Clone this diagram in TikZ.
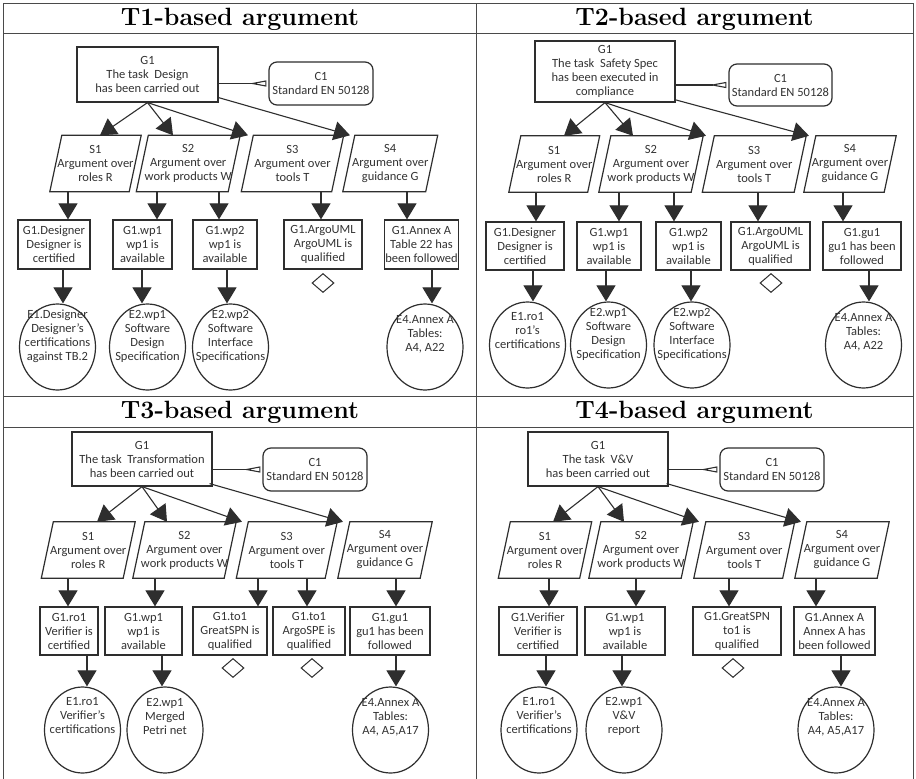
\documentclass[tikz,border=0pt]{standalone}
\usepackage{fontspec}
\setmainfont{Latin Modern Roman}
\newfontfamily\gsnfont{Carlito}
\usetikzlibrary{arrows.meta,shapes.geometric}
\definecolor{gsnc}{HTML}{2E2E2E}
\definecolor{gsntext}{HTML}{333333}
\definecolor{rulec}{HTML}{4A4A4A}

\tikzset{
  gsnfontstyle/.style={font=\gsnfont\fontsize{12.5}{14}\selectfont, text=gsntext},
  goalbox/.style={draw=gsnc, line width=1.2pt, rectangle, align=center, inner sep=1pt, gsnfontstyle},
  ctxbox/.style={goalbox, rounded corners=8pt},
  stratbox/.style={rectangle, align=center, inner sep=1pt, gsnfontstyle, minimum height=56pt},
  evid/.style={draw=gsnc, line width=1.2pt, ellipse, minimum width=76pt, minimum height=86pt, inner sep=0pt},
  evtext/.style={align=center, inner sep=0pt, gsnfontstyle},
  undev/.style={draw=gsnc, line width=1pt, diamond, minimum width=22pt, minimum height=19pt, inner sep=0pt},
  solved/.style={draw=gsnc, line width=1.1pt, -{Triangle[length=16pt,width=19pt]}},
  incontext/.style={draw=gsnc, line width=1.1pt, -{Triangle[open,reversed,length=17pt,width=6pt]}, shorten >=2pt},
  headtitle/.style={font=\fontsize{25}{29}\selectfont\bfseries, inner sep=0pt},
  tablerule/.style={draw=rulec, line width=1pt},
}

% strategy: a parallelogram drawn around a named text node
\newcommand\gsnstrat[5]{%
  \node[stratbox, minimum width=#4pt] (#1) at (#2,#3) {#5};
  \draw[draw=gsnc, line width=1.2pt] ([xshift=-6pt]#1.south west) -- ([xshift=6pt]#1.north west)
    -- ([xshift=6pt]#1.north east) -- ([xshift=-6pt]#1.south east) -- cycle;
}

\begin{document}
\begin{tikzpicture}[x=1pt,y=-1pt]
\useasboundingbox (0,0) rectangle (916,779);
\fill[white] (0,0) rectangle (916,779);

% ---------------- table ----------------
\draw[tablerule] (3,779) -- (3,3) -- (913,3) -- (913,779);
\draw[tablerule] (476,3) -- (476,779);
\draw[tablerule] (3,33) -- (913,33);
\draw[tablerule] (3,396) -- (913,396);
\draw[tablerule] (3,427) -- (913,427);

\node[headtitle] (hA) at (240,19) {T1-based argument};
\node[headtitle] (hB) at (694.5,19) {T2-based argument};
\node[headtitle] (hC) at (240,412) {T3-based argument};
\node[headtitle] (hD) at (694.5,412) {T4-based argument};

% ================= T1 =================
\node[goalbox, minimum width=141pt, minimum height=55pt] (aG) at (147.5,74.5) {G1\\The task\ \ Design\\has been carried out};
\node[ctxbox, minimum width=104pt, minimum height=43pt] (aC) at (321,83.5) {C1\\Standard EN 50128};
\draw[incontext] (aG.east |- aC.west) -- (aC.west);

\gsnstrat{aS1}{95.5}{163.5}{79}{S1\\Argument over\\roles R}
\gsnstrat{aS2}{188.25}{163.5}{91.5}{S2\\Argument over\\work products W}
\gsnstrat{aS3}{292.5}{163.5}{90}{S3\\Argument over\\tools T}
\gsnstrat{aS4}{390.25}{163.5}{82.5}{S4\\Argument over\\guidance G}

\draw[solved] (aG.south) -- (aS1.north -| 100,0);
\draw[solved] (aG.south) -- (aS2.north -| 173,0);
\draw[solved] (aG.south) -- (aS3.north -| 248,0);
\draw[solved] ([yshift=5pt]aG.south east) -- (aS4.north -| 350,0);

\node[goalbox, minimum width=72pt, minimum height=49pt] (aG1) at (54,244.5) {G1.Designer\\Designer is\\certified};
\node[goalbox, minimum width=59pt, minimum height=49pt] (aG2) at (142.5,244.5) {G1.wp1\\wp1 is\\available};
\node[goalbox, minimum width=64pt, minimum height=49pt] (aG3) at (225,244.5) {G1.wp2\\wp1 is\\available};
\node[goalbox, minimum width=78pt, minimum height=49pt] (aG4) at (323,244.5) {G1.ArgoUML\\ArgoUML is\\qualified};
\node[goalbox, minimum width=73pt, minimum height=49pt] (aG5) at (421.5,244.5) {G1.Annex A\\Table 22 has\\been followed};

\draw[solved] (aS1.south -| 68,0) -- (aG1.north -| 68,0);
\draw[solved] (aS2.south -| 157,0) -- (aG2.north -| 157,0);
\draw[solved] (aS2.south -| 219,0) -- (aG3.north -| 219,0);
\draw[solved] (aS3.south -| 321,0) -- (aG4.north -| 321,0);
\draw[solved] (aS4.south -| 407,0) -- (aG5.north -| 407,0);

\node[undev] (aU4) at (323,283) {};

\node[evid] (aE1) at (57.5,347) {};
\node[evtext] (aE1t) at ([yshift=11pt]aE1.center) {E1.Designer\\Designer’s\\certifications\\against TB.2};
\node[evid] (aE2) at (147.5,347) {};
\node[evtext] (aE2t) at ([yshift=11pt]aE2.center) {E2.wp1\\Software\\Design\\Specification};
\node[evid] (aE3) at (230.5,347) {};
\node[evtext] (aE3t) at ([yshift=11pt]aE3.center) {E2.wp2\\Software\\Interface\\Specifications};
\node[evid] (aE5) at (425,347) {};
\node[evtext] (aE5t) at ([yshift=13pt]aE5.center) {E4.Annex A\\Tables:\\A4, A22};

\draw[solved] (aG1.south -| 63,0) -- (aE1.north -| 63,0);
\draw[solved] (aG2.south -| 142,0) -- (aE2.north -| 142,0);
\draw[solved] (aG3.south -| 227,0) -- (aE3.north -| 227,0);
\draw[solved] (aG5.south -| 432,0) -- (aE5.north -| 432,0);

% ================= T2 =================
\node[goalbox, minimum width=140pt, minimum height=61pt] (bG) at (605,71.5) {G1\\The task\ \ Safety Spec\\has been executed in\\compliance};
\node[ctxbox, minimum width=103pt, minimum height=42pt] (bC) at (780.5,85) {C1\\Standard EN 50128};
\draw[incontext] (bG.east |- bC.west) -- (bC.west);

\gsnstrat{bS1}{554.25}{164}{78.5}{S1\\Argument over\\roles R}
\gsnstrat{bS2}{651}{164}{92}{S2\\Argument over\\work products W}
\gsnstrat{bS3}{754.25}{164}{91.5}{S3\\Argument over\\tools T}
\gsnstrat{bS4}{850}{164}{80}{S4\\Argument over\\guidance G}

\draw[solved] (bG.south) -- (bS1.north -| 564,0);
\draw[solved] (bG.south) -- (bS2.north -| 633,0);
\draw[solved] (bG.south) -- (bS3.north -| 706,0);
\draw[solved] ([xshift=-1pt,yshift=3pt]bG.south east) -- (bS4.north -| 809,0);

\node[goalbox, minimum width=78pt, minimum height=48pt] (bG1) at (525,246) {G1.Designer\\Designer is\\certified};
\node[goalbox, minimum width=64pt, minimum height=48pt] (bG2) at (609,246) {G1.wp1\\wp1 is\\available};
\node[goalbox, minimum width=65pt, minimum height=48pt] (bG3) at (688.5,246) {G1.wp2\\wp1 is\\available};
\node[goalbox, minimum width=79pt, minimum height=48pt] (bG4) at (770.5,246) {G1.ArgoUML\\ArgoUML is\\qualified};
\node[goalbox, minimum width=78pt, minimum height=48pt] (bG5) at (862,246) {G1.gu1\\gu1 has been\\followed};

\draw[solved] (bS1.south -| 536,0) -- (bG1.north -| 536,0);
\draw[solved] (bS2.south -| 619,0) -- (bG2.north -| 619,0);
\draw[solved] (bS2.south -| 674,0) -- (bG3.north -| 674,0);
\draw[solved] (bS3.south -| 758,0) -- (bG4.north -| 758,0);
\draw[solved] (bS4.south -| 843,0) -- (bG5.north -| 843,0);

\node[undev] (bU4) at (771,283) {};

\node[evid] (bE1) at (527.5,345) {};
\node[evtext] (bE1t) at ([yshift=14pt]bE1.center) {E1.ro1\\ro1’s\\certifications};
\node[evid] (bE2) at (608.5,345) {};
\node[evtext] (bE2t) at ([yshift=11pt]bE2.center) {E2.wp1\\Software\\Design\\Specification};
\node[evid] (bE3) at (692,345) {};
\node[evtext] (bE3t) at ([yshift=11pt]bE3.center) {E2.wp2\\Software\\Interface\\Specifications};
\node[evid] (bE5) at (863.5,345) {};
\node[evtext] (bE5t) at ([yshift=13pt]bE5.center) {E4.Annex A\\Tables:\\A4, A22};

\draw[solved] (bG1.south -| 533,0) -- (bE1.north -| 533,0);
\draw[solved] (bG2.south -| 606,0) -- (bE2.north -| 606,0);
\draw[solved] (bG3.south -| 691,0) -- (bE3.north -| 691,0);
\draw[solved] (bG5.south -| 869,0) -- (bE5.north -| 869,0);

% ================= T3 =================
\node[goalbox, minimum width=140pt, minimum height=54pt] (cG) at (142,459) {G1\\The task\ \ Transformation\\has been carried out};
\node[ctxbox, minimum width=104pt, minimum height=43pt] (cC) at (315,469.5) {C1\\Standard EN 50128};
\draw[incontext] (cG.east |- cC.west) -- (cC.west);

\gsnstrat{cS1}{88.25}{550}{81.5}{S1\\Argument over\\roles R}
\gsnstrat{cS2}{184.5}{550}{91}{S2\\Argument over\\work products W}
\gsnstrat{cS3}{286.75}{550}{88.5}{S3\\Argument over\\tools T}
\gsnstrat{cS4}{385}{550}{82}{S4\\Argument over\\guidance G}

\draw[solved] (cG.south) -- (cS1.north -| 97,0);
\draw[solved] (cG.south) -- (cS2.north -| 167,0);
\draw[solved] (cG.south) -- (cS3.north -| 242,0);
\draw[solved] ([xshift=-3pt,yshift=3pt]cG.south east) -- (cS4.north -| 343,0);

\node[goalbox, minimum width=58pt, minimum height=48pt] (cG1) at (69,631) {G1.ro1\\Verifier is\\certified};
\node[goalbox, minimum width=77pt, minimum height=48pt] (cG2) at (143.5,631) {G1.wp1\\wp1 is\\available};
\node[goalbox, minimum width=74pt, minimum height=48pt] (cG3) at (230,631) {G1.to1\\GreatSPN is\\qualified};
\node[goalbox, minimum width=72pt, minimum height=48pt] (cG4) at (309,631) {G1.to1\\ArgoSPE is\\qualified};
\node[goalbox, minimum width=80pt, minimum height=48pt] (cG5) at (390,631) {G1.gu1\\gu1 has been\\followed};

\draw[solved] (cS1.south -| 68,0) -- (cG1.north -| 68,0);
\draw[solved] (cS2.south -| 155,0) -- (cG2.north -| 155,0);
\draw[solved] (cS3.south -| 258,0) -- (cG3.north -| 258,0);
\draw[solved] (cS3.south -| 307,0) -- (cG4.north -| 307,0);
\draw[solved] (cS4.south -| 396,0) -- (cG5.north -| 396,0);

\node[undev] (cU3) at (233,668) {};
\node[undev] (cU4) at (312,668) {};

\node[evid] (cE1) at (82.5,730) {};
\node[evtext] (cE1t) at ([yshift=14pt]cE1.center) {E1.ro1\\Verifier’s\\certifications};
\node[evid] (cE2) at (165,730) {};
\node[evtext] (cE2t) at ([yshift=14pt]cE2.center) {E2.wp1\\Merged\\Petri net};
\node[evid] (cE5) at (390.5,730) {};
\node[evtext] (cE5t) at ([yshift=13pt]cE5.center) {E4.Annex A\\Tables:\\A4, A5,A17};

\draw[solved] (cG1.south -| 87,0) -- (cE1.north -| 87,0);
\draw[solved] (cG2.south -| 162,0) -- (cE2.north -| 162,0);
\draw[solved] (cG5.south -| 396,0) -- (cE5.north -| 396,0);

% ================= T4 =================
\node[goalbox, minimum width=140pt, minimum height=54pt] (dG) at (598,459) {G1\\The task\ \ V\&V\\has been carried out};
\node[ctxbox, minimum width=104pt, minimum height=43pt] (dC) at (772,469.5) {C1\\Standard EN 50128};
\draw[incontext] (dG.east |- dC.west) -- (dC.west);

\gsnstrat{dS1}{545}{550}{81}{S1\\Argument over\\roles R}
\gsnstrat{dS2}{641}{550}{92}{S2\\Argument over\\work products W}
\gsnstrat{dS3}{744.25}{550}{88.5}{S3\\Argument over\\tools T}
\gsnstrat{dS4}{842}{550}{82}{S4\\Argument over\\guidance G}

\draw[solved] (dG.south) -- (dS1.north -| 553,0);
\draw[solved] (dG.south) -- (dS2.north -| 624,0);
\draw[solved] (dG.south) -- (dS3.north -| 699,0);
\draw[solved] ([xshift=-2pt,yshift=3pt]dG.south east) -- (dS4.north -| 801,0);

\node[goalbox, minimum width=78pt, minimum height=48pt] (dG1) at (538,631) {G1.Verifier\\Verifier is\\certified};
\node[goalbox, minimum width=80pt, minimum height=48pt] (dG2) at (625,631) {G1.wp1\\wp1 is\\available};
\node[goalbox, minimum width=88pt, minimum height=48pt] (dG3) at (737,631) {G1.GreatSPN\\to1 is\\qualified};
\node[goalbox, minimum width=81pt, minimum height=48pt] (dG5) at (834.5,631) {G1.Annex A\\Annex A has\\been followed};

\draw[solved] (dS1.south -| 549,0) -- (dG1.north -| 549,0);
\draw[solved] (dS2.south -| 636,0) -- (dG2.north -| 636,0);
\draw[solved] (dS3.south -| 729,0) -- (dG3.north -| 729,0);
\draw[solved] (dS4.south -| 816,0) -- (dG5.north -| 816,0);

\node[undev] (dU3) at (733,668) {};

\node[evid] (dE1) at (539,730) {};
\node[evtext] (dE1t) at ([yshift=14pt]dE1.center) {E1.ro1\\Verifier’s\\certifications};
\node[evid] (dE2) at (624,730) {};
\node[evtext] (dE2t) at ([yshift=14pt]dE2.center) {E2.wp1\\V\&V\\report};
\node[evid] (dE5) at (836,730) {};
\node[evtext] (dE5t) at ([yshift=13pt]dE5.center) {E4.Annex A\\Tables:\\A4, A5,A17};

\draw[solved] (dG1.south -| 546,0) -- (dE1.north -| 546,0);
\draw[solved] (dG2.south -| 622,0) -- (dE2.north -| 622,0);
\draw[solved] (dG5.south -| 841,0) -- (dE5.north -| 841,0);

\end{tikzpicture}
\end{document}
